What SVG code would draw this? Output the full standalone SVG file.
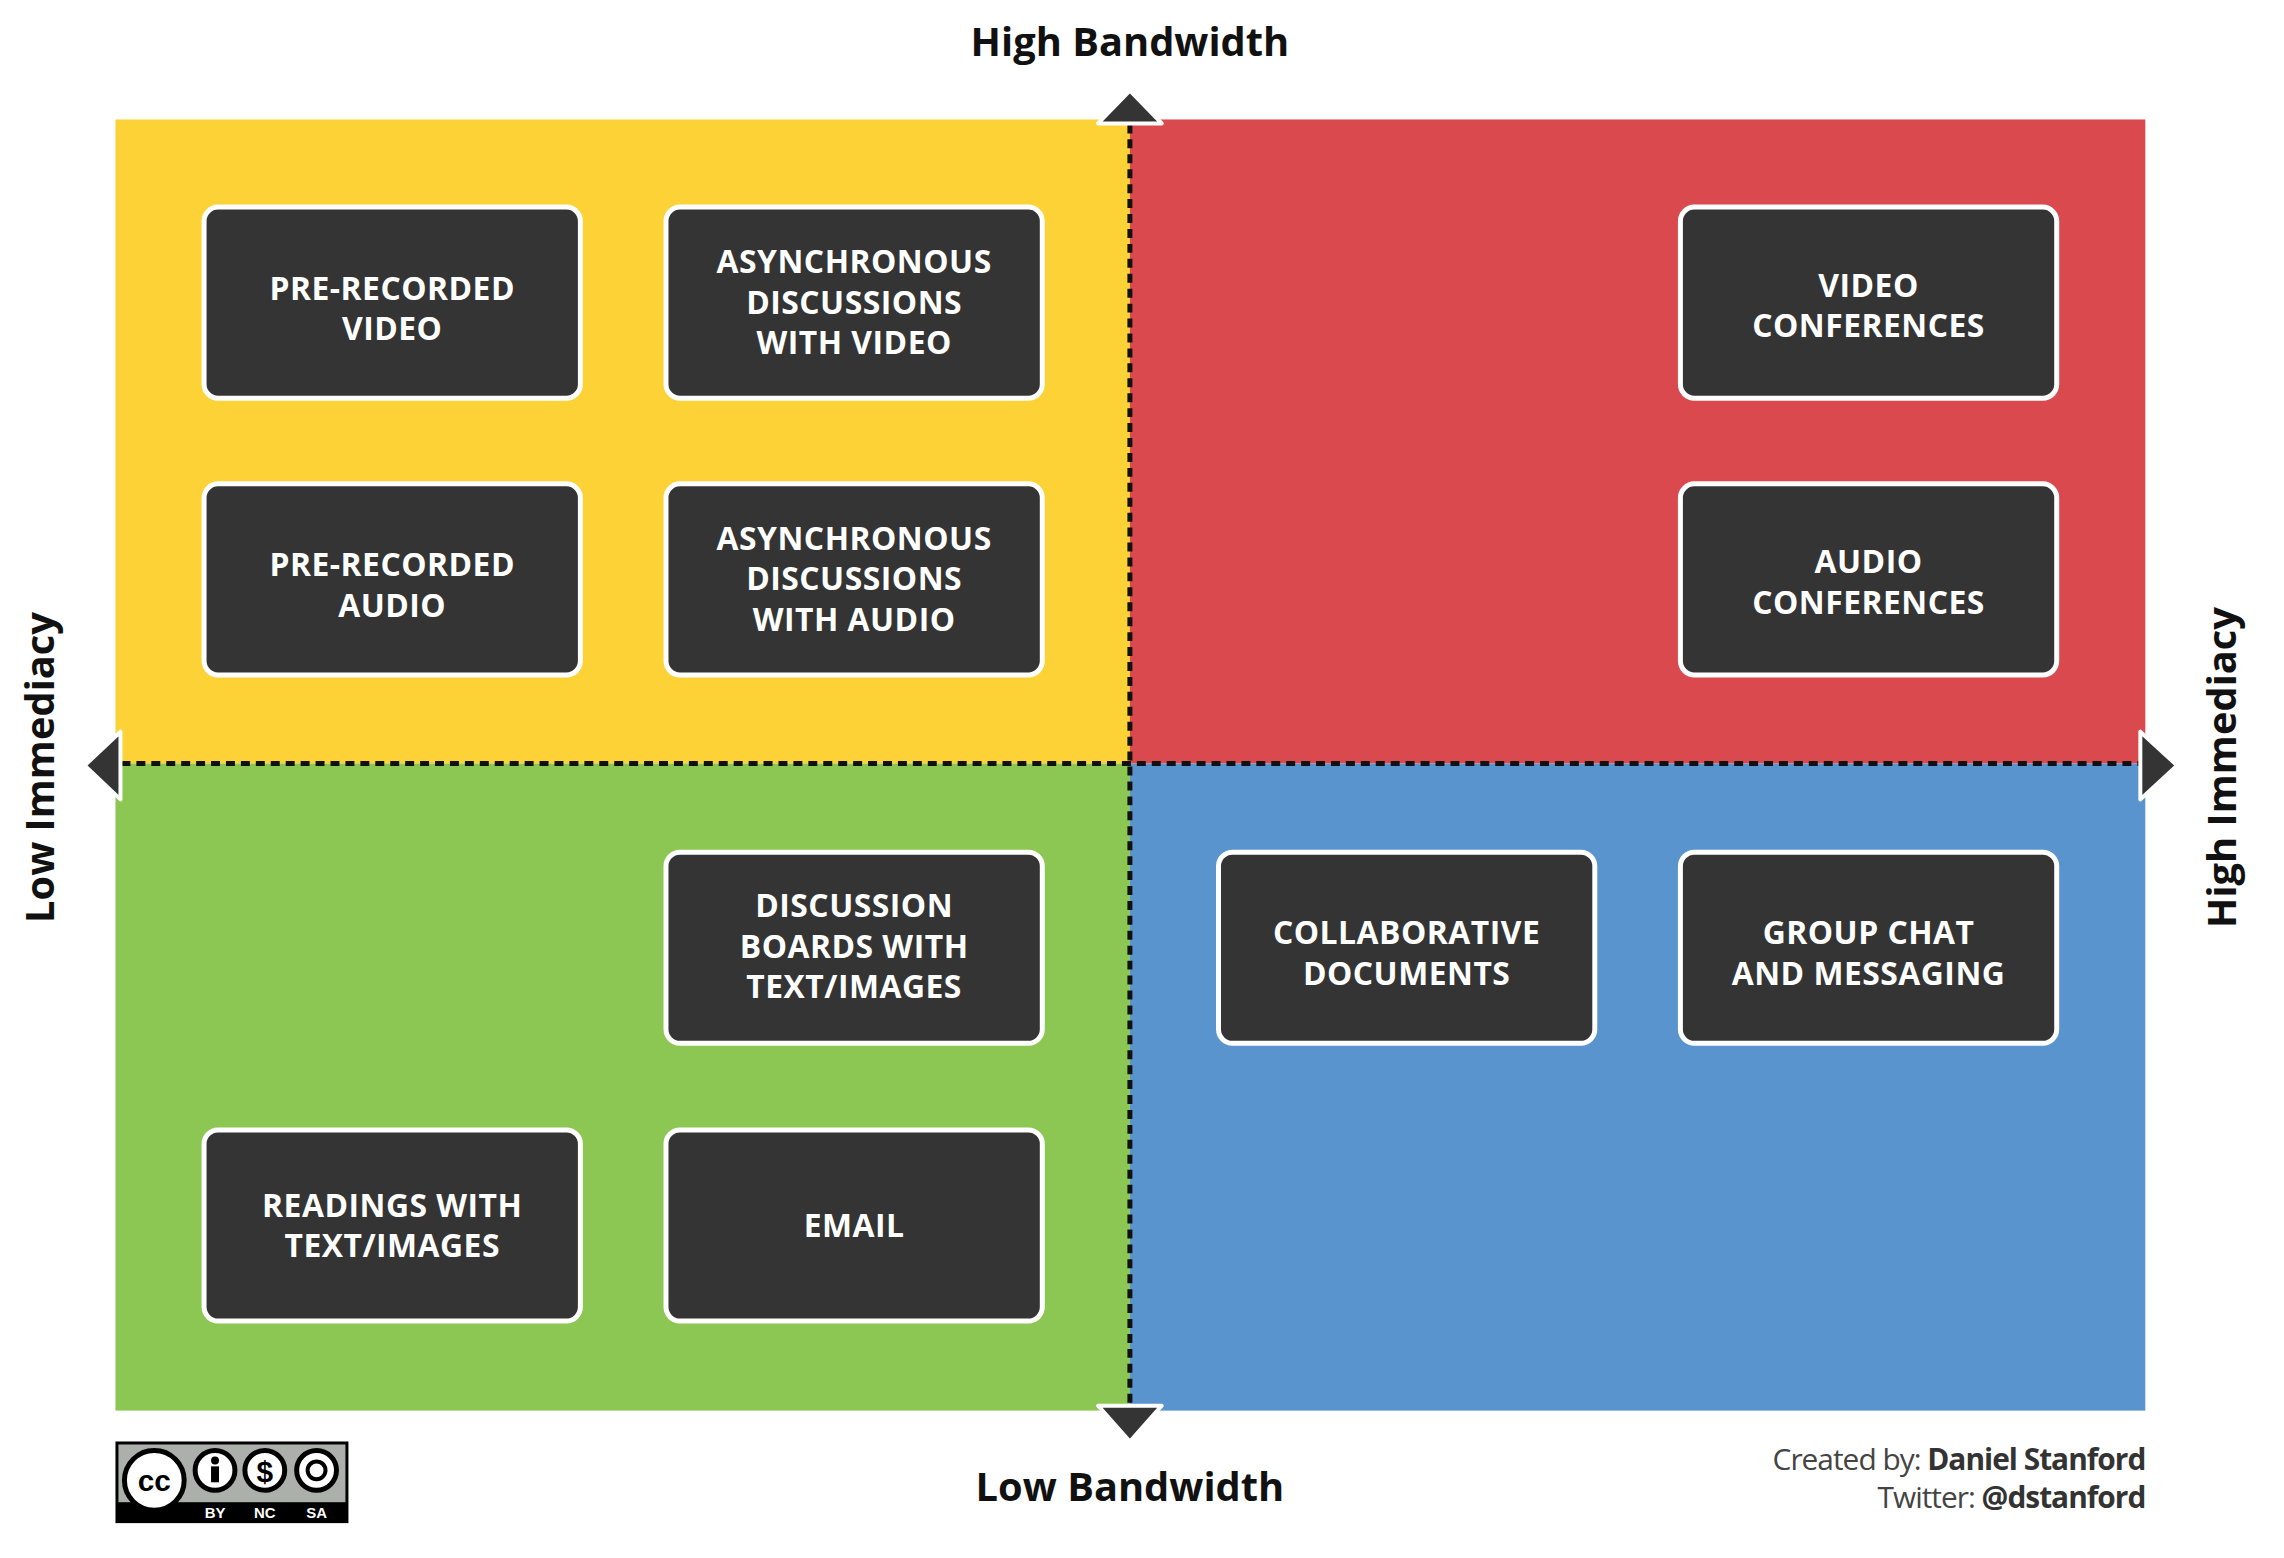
<svg xmlns="http://www.w3.org/2000/svg" width="2284" height="1558" viewBox="0 0 2284 1558">
<style>
.box{fill:#333433;stroke:#fff;stroke-width:5}
.bt{font-family:"Open Sans","DejaVu Sans",sans-serif;font-weight:bold;font-size:32px;fill:#fff;text-anchor:middle;letter-spacing:0.5px}
.ax{font-family:"Open Sans","DejaVu Sans",sans-serif;font-weight:bold;font-size:40px;fill:#111;text-anchor:middle}
.cr{font-family:"Open Sans","DejaVu Sans",sans-serif;font-size:30px;fill:#444;text-anchor:end;letter-spacing:-1px}
.arr{fill:#333433;stroke:#fff;stroke-width:4;stroke-linejoin:round}
.dash{stroke:#111;stroke-width:5;stroke-dasharray:9 6;fill:none}
</style>
<rect width="2284" height="1558" fill="#fff"/>
<g transform="scale(0.9955)">
<g id="quadrants">
<rect x="116" y="120" width="1019" height="647" fill="#FCD237"/>
<rect x="1135" y="120" width="1020" height="647" fill="#D9494D"/>
<rect x="116" y="767" width="1019" height="650" fill="#8DC753"/>
<rect x="1135" y="767" width="1020" height="650" fill="#5A94CE"/>
</g>
<g id="connectors">
<line class="dash" x1="1135" y1="125" x2="1135" y2="1412"/>
<line class="dash" x1="122" y1="767" x2="2150" y2="767"/>
<polygon class="arr" points="1135,91 1103,124 1167,124"/>
<polygon class="arr" points="1135,1448 1103,1412 1167,1412"/>
<polygon class="arr" points="85,769 121,735 121,803"/>
<polygon class="arr" points="2187,769 2150,735 2150,803"/>
</g>
<g id="labels">
<text class="ax" x="1135" y="56">High Bandwidth</text>
<text class="ax" x="1135" y="1508">Low Bandwidth</text>
<text class="ax" transform="translate(54,771) rotate(-90)">Low Immediacy</text>
<text class="ax" transform="translate(2246,771) rotate(-90)">High Immediacy</text>
</g>
<g id="n1"><rect class="box" x="205" y="208" width="378" height="192" rx="14"/><text class="bt" x="394" y="301">PRE-RECORDED</text><text class="bt" x="394" y="342">VIDEO</text></g>
<g id="n2"><rect class="box" x="669" y="208" width="378" height="192" rx="14"/><text class="bt" x="858" y="274">ASYNCHRONOUS</text><text class="bt" x="858" y="315">DISCUSSIONS</text><text class="bt" x="858" y="356">WITH VIDEO</text></g>
<g id="n3"><rect class="box" x="1688" y="208" width="378" height="192" rx="14"/><text class="bt" x="1877" y="298">VIDEO</text><text class="bt" x="1877" y="339">CONFERENCES</text></g>
<g id="n4"><rect class="box" x="205" y="486" width="378" height="192" rx="14"/><text class="bt" x="394" y="579">PRE-RECORDED</text><text class="bt" x="394" y="620">AUDIO</text></g>
<g id="n5"><rect class="box" x="669" y="486" width="378" height="192" rx="14"/><text class="bt" x="858" y="552">ASYNCHRONOUS</text><text class="bt" x="858" y="593">DISCUSSIONS</text><text class="bt" x="858" y="634">WITH AUDIO</text></g>
<g id="n6"><rect class="box" x="1688" y="486" width="378" height="192" rx="14"/><text class="bt" x="1877" y="576">AUDIO</text><text class="bt" x="1877" y="617">CONFERENCES</text></g>
<g id="n7"><rect class="box" x="669" y="856" width="378" height="192" rx="14"/><text class="bt" x="858" y="921">DISCUSSION</text><text class="bt" x="858" y="962">BOARDS WITH</text><text class="bt" x="858" y="1003">TEXT/IMAGES</text></g>
<g id="n8"><rect class="box" x="1224" y="856" width="378" height="192" rx="14"/><text class="bt" x="1413" y="948">COLLABORATIVE</text><text class="bt" x="1413" y="989">DOCUMENTS</text></g>
<g id="n9"><rect class="box" x="1688" y="856" width="378" height="192" rx="14"/><text class="bt" x="1877" y="948">GROUP CHAT</text><text class="bt" x="1877" y="989">AND MESSAGING</text></g>
<g id="n10"><rect class="box" x="205" y="1135" width="378" height="192" rx="14"/><text class="bt" x="394" y="1222">READINGS WITH</text><text class="bt" x="394" y="1263">TEXT/IMAGES</text></g>
<g id="n11"><rect class="box" x="669" y="1135" width="378" height="192" rx="14"/><text class="bt" x="858" y="1243">EMAIL</text></g>
<g id="credits">
<text class="cr" x="2155" y="1477">Created by: <tspan font-weight="bold" fill="#333">Daniel Stanford</tspan></text>
<text class="cr" x="2155" y="1515">Twitter: <tspan font-weight="bold" fill="#333">@dstanford</tspan></text>
</g>
<g id="license">
<rect x="116" y="1448" width="234" height="82" fill="#000"/>
<rect x="119" y="1451" width="228" height="58" fill="#abb1aa"/>
<circle cx="155" cy="1487" r="30" fill="#fff" stroke="#000" stroke-width="5"/>
<text x="155" y="1498" font-family="Liberation Sans,sans-serif" font-weight="bold" font-size="30" text-anchor="middle" fill="#000">cc</text>
<circle cx="216" cy="1477" r="20" fill="#fff" stroke="#000" stroke-width="5"/>
<circle cx="216" cy="1467" r="4" fill="#000"/><rect x="212" y="1473" width="8" height="16" fill="#000"/>
<circle cx="266" cy="1477" r="20" fill="#fff" stroke="#000" stroke-width="5"/>
<text x="266" y="1489" font-family="Liberation Sans,sans-serif" font-weight="bold" font-size="30" text-anchor="middle" fill="#000">$</text>
<circle cx="318" cy="1477" r="20" fill="#fff" stroke="#000" stroke-width="5"/>
<circle cx="318" cy="1477" r="9" fill="none" stroke="#000" stroke-width="4"/>
<text x="216" y="1525" font-family="Liberation Sans,sans-serif" font-weight="bold" font-size="15" text-anchor="middle" fill="#fff">BY</text>
<text x="266" y="1525" font-family="Liberation Sans,sans-serif" font-weight="bold" font-size="15" text-anchor="middle" fill="#fff">NC</text>
<text x="318" y="1525" font-family="Liberation Sans,sans-serif" font-weight="bold" font-size="15" text-anchor="middle" fill="#fff">SA</text>
</g>
</g>
</svg>
